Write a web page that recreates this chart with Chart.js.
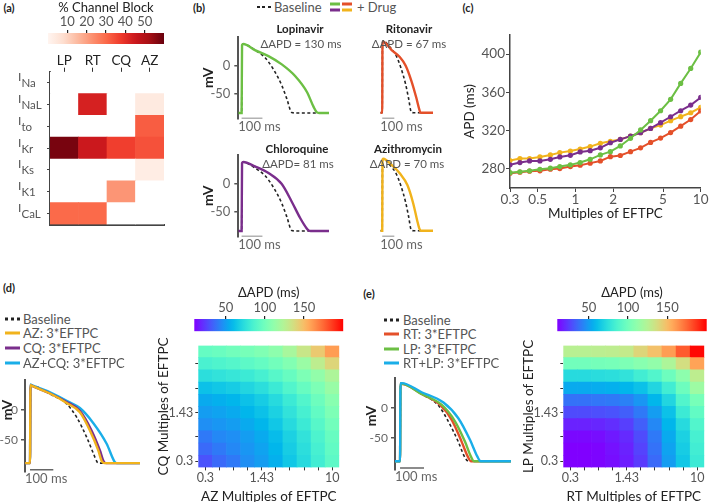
<!DOCTYPE html>
<html>
<head>
<meta charset="utf-8">
<script src="https://cdn.jsdelivr.net/npm/chart.js@4.4.1/dist/chart.umd.min.js"></script>
<style>
body { margin: 0; width: 709px; height: 502px; position: relative; overflow: hidden; background: #fff; font-family: Lato, sans-serif; color: #555; }
canvas { position: absolute; }
.t { position: absolute; white-space: nowrap; transform: translate(-50%, -50%); font-size: 11.5px; }
.l { position: absolute; white-space: nowrap; transform: translateY(-50%); font-size: 13px; }
.pl { font-weight: bold; color: #222; font-size: 11px; }
.dn { font-weight: bold; color: #222; }
.mv { position: absolute; white-space: nowrap; transform: translate(-50%, -50%) rotate(-90deg); font-weight: bold; color: #222; font-size: 14px; }
.ic { position: absolute; height: 3px; transform: translateY(-50%); }
.dash { background: repeating-linear-gradient(to right, #222 0 3px, transparent 3px 5.5px); height: 2px; }
.dots { background: repeating-linear-gradient(to right, #222 0 3px, transparent 3px 6px); height: 3px; }
</style>
</head>
<body>
<canvas id="cbA" width="135" height="46" style="left:40px;top:0px"></canvas>
<canvas id="heatA" width="175" height="185" style="left:0px;top:50px"></canvas>
<canvas id="apLP" width="129" height="110" style="left:200px;top:25px"></canvas>
<canvas id="apRT" width="91" height="110" style="left:342px;top:25px"></canvas>
<canvas id="apCQ" width="129" height="110" style="left:200px;top:143px"></canvas>
<canvas id="apAZ" width="91" height="110" style="left:342px;top:143px"></canvas>
<canvas id="apdC" width="254" height="200" style="left:455px;top:25px"></canvas>
<canvas id="apD" width="153" height="125" style="left:-3px;top:370px"></canvas>
<canvas id="cbD" width="170" height="52" style="left:180px;top:282px"></canvas>
<canvas id="heatD" width="200" height="170" style="left:150px;top:336px"></canvas>
<canvas id="apE" width="158" height="127" style="left:362px;top:368px"></canvas>
<canvas id="cbE" width="164" height="52" style="left:545px;top:282px"></canvas>
<canvas id="heatE" width="194" height="170" style="left:515px;top:336px"></canvas>

<!-- panel labels -->
<div class="t pl" style="left:9px;top:7px">(a)</div>
<div class="t pl" style="left:199px;top:7px">(b)</div>
<div class="t pl" style="left:468px;top:7px">(c)</div>
<div class="t pl" style="left:9px;top:287px">(d)</div>
<div class="t pl" style="left:369px;top:293px">(e)</div>

<!-- (b) legend -->
<div class="ic dash" style="left:257px;top:7px;width:15px"></div>
<div class="l" style="left:274px;top:7px">Baseline</div>
<div class="ic" style="left:330px;top:4px;width:10px;background:#6cbf44"></div>
<div class="ic" style="left:342px;top:4px;width:10px;background:#e4502a"></div>
<div class="ic" style="left:330px;top:10px;width:10px;background:#7a2e8c"></div>
<div class="ic" style="left:342px;top:10px;width:10px;background:#f1b31c"></div>
<div class="l" style="left:357px;top:7px">+ Drug</div>

<!-- (b) titles -->
<div class="t dn" style="left:300px;top:28px">Lopinavir</div>
<div class="t" style="left:301px;top:43px">ΔAPD = 130 ms</div>
<div class="t dn" style="left:409px;top:28px">Ritonavir</div>
<div class="t" style="left:409px;top:43px">ΔAPD = 67 ms</div>
<div class="t dn" style="left:297px;top:148px">Chloroquine</div>
<div class="t" style="left:298px;top:163px">ΔAPD= 81 ms</div>
<div class="t dn" style="left:408px;top:148px">Azithromycin</div>
<div class="t" style="left:407px;top:163px">ΔAPD = 70 ms</div>

<!-- (d) legend -->
<div class="ic dots" style="left:5px;top:319px;width:15px"></div>
<div class="l" style="left:23px;top:319px">Baseline</div>
<div class="ic" style="left:5px;top:333px;width:15px;background:#f1b31c"></div>
<div class="l" style="left:23px;top:333px">AZ: 3*EFTPC</div>
<div class="ic" style="left:5px;top:348px;width:15px;background:#7a2e8c"></div>
<div class="l" style="left:23px;top:348px">CQ: 3*EFTPC</div>
<div class="ic" style="left:5px;top:363px;width:15px;background:#1aaee8"></div>
<div class="l" style="left:23px;top:363px">AZ+CQ: 3*EFTPC</div>
<div class="mv" style="left:6px;top:410px">mV</div>

<!-- (e) legend -->
<div class="ic dots" style="left:384px;top:320px;width:15px"></div>
<div class="l" style="left:403px;top:320px">Baseline</div>
<div class="ic" style="left:384px;top:334px;width:15px;background:#e4502a"></div>
<div class="l" style="left:403px;top:334px">RT: 3*EFTPC</div>
<div class="ic" style="left:384px;top:349px;width:15px;background:#6cbf44"></div>
<div class="l" style="left:403px;top:349px">LP: 3*EFTPC</div>
<div class="ic" style="left:384px;top:363px;width:15px;background:#1aaee8"></div>
<div class="l" style="left:403px;top:363px">RT+LP: 3*EFTPC</div>
<div class="mv" style="left:370px;top:416px">mV</div>

<script>
// ---- (a) channel block (%) ----
const drugs = ['LP', 'RT', 'CQ', 'AZ'];
const channels = ['Na', 'NaL', 'to', 'Kr', 'Ks', 'K1', 'CaL'];
const blockNa  = [0, 0, 0, 0];
const blockNaL = [0, 43, 0, 4];
const blockTo  = [0, 0, 0, 32];
const blockKr  = [58, 45, 37, 34];
const blockKs  = [0, 0, 0, 3];
const blockK1  = [0, 0, 22, 0];
const blockCaL = [30, 30, 0, 0];
const blockTicks = [10, 20, 30, 40, 50];

// ---- (b) action potentials, time (ms) / voltage (mV) ----
const tBase = [-16, 0, 2, 8, 64, 113, 153, 193, 217, 241, 260, 420];
const vBase = [-85, -85, 38, 40, 29, 15, -6, -35, -59, -84, -85, -85];
const tLP = [-16, 0, 2, 8, 64, 129, 193, 257, 314, 346, 362, 372, 420];
const vLP = [-85, -85, 38, 40, 29, 18, 3, -18, -47, -74, -84, -85, -85];
const tRT = [-16, 0, 2, 8, 80, 145, 193, 241, 282, 305, 314, 325, 420];
const vRT = [-85, -85, 38, 38, 23.5, 11.7, -3, -29.5, -59, -78, -84, -85, -85];
const tCQ = [-16, 0, 2, 8, 64, 129, 193, 241, 282, 312, 322, 332, 420];
const vCQ = [-85, -85, 38, 40, 32, 20, 0, -32, -62, -80, -84, -85, -85];
const tAZ = [-16, 0, 2, 8, 80, 145, 209, 257, 290, 305, 314, 324, 420];
const vAZ = [-85, -85, 38, 40, 29, 14.7, -6, -38, -68, -80, -84, -85, -85];

// ---- (c) APD vs multiples of EFTPC ----
const eftpc = [0.3, 0.36, 0.43, 0.52, 0.63, 0.75, 0.91, 1.09, 1.31, 1.58, 1.9, 2.28, 2.75, 3.31, 3.98, 4.78, 5.75, 6.92, 8.32, 10];
const apdLP = [276, 277, 278, 279.6, 280.7, 282.4, 284.2, 286.6, 290, 294.6, 298, 304, 312, 320.7, 330.4, 340.8, 352.7, 369.4, 385, 402];
const apdRT = [275.5, 276.5, 277.6, 278, 279.6, 280.3, 282.4, 283.8, 286, 288.3, 292.8, 294, 298, 302, 307.7, 312.2, 318, 324.7, 331.6, 340.6];
const apdCQ = [284.2, 286.6, 288.3, 288.3, 290, 292.5, 294.2, 297.7, 299, 302, 307.3, 310.8, 314.3, 317.8, 322.3, 328.3, 334.5, 340.8, 346.7, 354.7];
const apdAZ = [288.7, 290.8, 290.8, 292.5, 294.6, 297, 298.7, 300.8, 303.3, 306.7, 308.8, 310.8, 314.3, 317.8, 322.3, 325.8, 330.4, 334.6, 338.7, 344.3];
const eftpcTicks = [0.3, 0.5, 1, 2, 5, 10];
const apdTicks = [280, 320, 360, 400];

// ---- (d) AZ + CQ ----
const dtBase = [-21, 0, 2, 7, 86, 157, 200, 243, 272, 288, 298, 472];
const dvBase = [-88, -88, 40, 40, 26, 10, -12, -45, -72, -86, -88, -88];
const dtAZ = [-21, 0, 2, 7, 86, 157, 214, 257, 293, 308, 318, 472];
const dvAZ = [-88, -88, 41, 40, 27, 11.5, -4, -34, -67, -85, -88, -88];
const dtCQ = [-21, 0, 2, 7, 86, 157, 214, 264, 300, 316, 326, 472];
const dvCQ = [-88, -88, 41, 40, 27, 13, -1.5, -34, -67, -85, -88, -88];
const dtAZCQ = [-21, 0, 2, 7, 86, 157, 214, 272, 329, 362, 372, 472];
const dvAZCQ = [-88, -88, 42, 41, 29, 15, 3, -22, -56, -85, -88, -88];

// ---- (e) RT + LP ----
const etBase = [-21, 0, 2, 7, 90, 160, 201, 243, 268, 285, 462];
const evBase = [-88, -88, 40, 40, 23, 4, -22, -56, -80, -88, -88];
const etRT = [-21, 0, 2, 7, 90, 167, 216, 257, 282, 296, 462];
const evRT = [-88, -88, 40, 40, 23, 5, -20, -56, -80, -88, -88];
const etLP = [-21, 0, 2, 7, 90, 174, 229, 271, 295, 308, 462];
const evLP = [-88, -88, 40, 40, 23, 5, -22, -56, -80, -88, -88];
const etRTLP = [-21, 0, 2, 7, 90, 181, 243, 292, 322, 336, 462];
const evRTLP = [-88, -88, 41, 41, 26, 9, -17, -53, -80, -88, -88];

// heatmap axes (multiples of EFTPC) and dAPD (ms); rows listed top (10x) to bottom (0.3x)
const multiples = ['0.3', '0.443', '0.654', '0.965', '1.43', '2.10', '3.10', '4.58', '6.77', '10'];
const shownMultiples = [0, 4, 9];
const dApdTicks = [50, 100, 150];
const dApdAzCq = [
    [95, 97, 100, 102, 105, 110, 120, 132, 145, 160],
    [85, 87, 89, 92, 95, 100, 106, 115, 128, 140],
    [74, 76, 78, 80, 84, 90, 96, 104, 112, 122],
    [62, 64, 66, 70, 74, 80, 88, 96, 104, 114],
    [54, 56, 58, 62, 66, 72, 80, 88, 98, 108],
    [50, 52, 54, 58, 62, 68, 76, 84, 94, 104],
    [46, 48, 50, 54, 58, 64, 72, 80, 90, 100],
    [40, 44, 46, 50, 54, 60, 68, 76, 86, 96],
    [36, 40, 44, 48, 52, 58, 66, 74, 84, 94],
    [30, 36, 40, 46, 50, 56, 64, 72, 82, 92]
];
const dApdRtLp = [
    [126, 126, 127, 128, 130, 140, 148, 160, 178, 198],
    [100, 100, 101, 102, 104, 108, 112, 122, 136, 158],
    [72, 72, 73, 74, 76, 82, 88, 98, 110, 128],
    [54, 54, 55, 56, 58, 62, 70, 82, 98, 116],
    [38, 38, 39, 40, 42, 48, 58, 70, 88, 102],
    [28, 28, 29, 30, 33, 40, 50, 62, 80, 94],
    [18, 18, 19, 21, 25, 33, 44, 58, 72, 88],
    [12, 12, 13, 16, 20, 28, 40, 54, 68, 84],
    [10, 10, 11, 14, 18, 26, 38, 52, 66, 82],
    [10, 10, 11, 13, 17, 24, 36, 50, 64, 80]
];

const green = '#6cbf44', red = '#e4502a', purple = '#7a2e8c', yellow = '#f1b31c', blue = '#1aaee8';

Chart.defaults.font.family = 'Lato';
Chart.defaults.font.size = 12.5;
Chart.defaults.color = '#555';
Chart.defaults.responsive = false;
Chart.defaults.animation = false;
Chart.defaults.events = [];
Chart.defaults.plugins.legend.display = false;
Chart.defaults.plugins.tooltip.enabled = false;

const fixH = h => s => { s.height = h; };
const fixW = w => s => { s.width = w; };
const setTicks = vals => s => { s.ticks = vals.map(v => ({ value: v })); };
const zip = (t, v) => t.map((x, i) => ({ x, y: v[i] }));

// colour maps
const redStops = ['#fff5f0', '#fee0d2', '#fcbba1', '#fc9272', '#fb6a4a', '#ef3b2c', '#cb181d', '#a50f15', '#67000d'];
function hex(h) { return [1, 3, 5].map(i => parseInt(h.substr(i, 2), 16)); }
function reds(t) {
    t = Math.max(0, Math.min(1, t));
    const pos = t * (redStops.length - 1);
    const i = Math.min(Math.floor(pos), redStops.length - 2);
    const f = pos - i;
    const a = hex(redStops[i]), b = hex(redStops[i + 1]);
    return `rgb(${a.map((c, k) => Math.round(c + (b[k] - c) * f)).join(',')})`;
}
function rainbow(t) {
    t = Math.max(0, Math.min(1, t));
    const r = Math.min(1, Math.abs(2 * t - 0.5));
    const g = Math.sin(Math.PI * t);
    const b = Math.cos(Math.PI * t / 2);
    return `rgb(${Math.round(r * 255)},${Math.round(g * 255)},${Math.round(b * 255)})`;
}
const apdColor = v => rainbow((v - 10) / 190);

function gradient(chart, cmap) {
    const a = chart.chartArea;
    if (!a) return 'transparent';
    const g = chart.ctx.createLinearGradient(a.left, 0, a.right, 0);
    for (let i = 0; i <= 30; i++) g.addColorStop(i / 30, cmap(i / 30));
    return g;
}

function colorbar(id, min, max, ticks, title, cmap, pad, axisH, titlePad) {
    new Chart(document.getElementById(id), {
        type: 'bar',
        data: {
            labels: [''],
            datasets: [{ data: [[min, max]], barPercentage: 1, categoryPercentage: 1, backgroundColor: c => gradient(c.chart, cmap) }]
        },
        options: {
            indexAxis: 'y',
            layout: { padding: pad },
            scales: {
                x: {
                    position: 'top', min, max,
                    afterBuildTicks: setTicks(ticks),
                    afterFit: fixH(axisH),
                    grid: { drawOnChartArea: false, tickLength: 3, color: '#222', lineWidth: 1.2 },
                    border: { display: false },
                    ticks: { padding: 0, font: { size: 13 } },
                    title: { display: true, text: title, color: '#222', font: { size: 13 }, padding: { top: titlePad, bottom: 0 } }
                },
                y: { display: false }
            }
        }
    });
}

// ---------- (a) ----------
colorbar('cbA', 0, 60, blockTicks, '% Channel Block', reds, { left: 8, right: 11, top: 0, bottom: 2 }, 33, 0);

const blockRows = [blockNa, blockNaL, blockTo, blockKr, blockKs, blockK1, blockCaL];
const rowLabels = {
    id: 'rowLabels',
    afterDraw(chart) {
        const y = chart.scales.y, ctx = chart.ctx;
        ctx.save();
        ctx.fillStyle = '#555';
        ctx.textAlign = 'left';
        ctx.textBaseline = 'alphabetic';
        channels.forEach((name, r) => {
            const py = y.getPixelForValue(channels.length - r - 0.5);
            ctx.font = '12px Lato';
            ctx.fillText('I', 18, py - 1.5);
            ctx.font = '11.5px Lato';
            ctx.fillText(name, 21.5, py + 4.5);
        });
        ctx.restore();
    }
};
new Chart(document.getElementById('heatA'), {
    type: 'bar',
    data: {
        labels: drugs,
        datasets: blockRows.slice().reverse().map(row => ({
            data: row.map(() => 1),
            backgroundColor: row.map(v => v > 0 ? reds(v / 60) : '#ffffff'),
            barPercentage: 1, categoryPercentage: 1
        }))
    },
    options: {
        layout: { padding: { left: 0, right: 11, top: 0, bottom: 6.7 } },
        scales: {
            x: {
                position: 'top', stacked: true,
                afterFit: fixH(21.7),
                grid: { offset: false, drawOnChartArea: false, tickLength: 4, color: '#333' },
                border: { display: false },
                ticks: { color: '#222', font: { size: 13.5 }, padding: -1 }
            },
            x2: {
                type: 'category', labels: drugs, position: 'bottom',
                afterFit: fixH(0),
                grid: { display: false, drawTicks: false },
                ticks: { display: false },
                border: { display: true, color: '#444', width: 2 }
            },
            y: {
                stacked: true, min: 0, max: channels.length,
                afterBuildTicks: setTicks(channels.map((c, i) => i + 0.5)),
                afterFit: fixW(50),
                ticks: { callback: () => '' },
                grid: { drawOnChartArea: false, tickLength: 3, color: '#444' },
                border: { color: '#444', width: 2 }
            }
        }
    },
    plugins: [rowLabels]
});

// ---------- action potential helper ----------
// curves are listed top-most first; the baseline is drawn underneath
function apChart(id, curves, o) {
    const datasets = curves.map((c, i) => ({
        data: zip(c.t, c.v),
        borderColor: c.color,
        borderWidth: c.dash ? 1.6 : 2.4,
        borderDash: c.dash ? [3, 2.5] : [],
        pointRadius: 0,
        cubicInterpolationMode: 'monotone',
        order: c.dash ? 10 : i + 1
    }));
    // 100 ms scale bar
    datasets.push({ data: [{ x: 0, y: o.bar }, { x: 100, y: o.bar }], borderColor: '#666', borderWidth: 1.5, pointRadius: 0, order: 0 });
    new Chart(document.getElementById(id), {
        type: 'line',
        data: { datasets },
        options: {
            layout: { padding: o.pad },
            scales: {
                x: {
                    type: 'linear', min: o.xmin, max: o.xmax,
                    afterFit: fixH(o.xH),
                    ticks: { display: false },
                    grid: { display: false },
                    border: { display: false },
                    title: { display: true, text: '100 ms', align: 'start', color: '#666', font: { size: 13 }, padding: 0 }
                },
                y: {
                    display: o.showY, min: o.ymin, max: o.ymax,
                    afterBuildTicks: setTicks([-50, 0]),
                    afterFit: fixW(o.yW),
                    ticks: { color: '#666', font: { size: o.tickSize }, padding: o.tickPad },
                    grid: { drawOnChartArea: false, tickLength: 4, color: '#555', lineWidth: 1.5 },
                    border: { color: '#555', width: 2 },
                    title: { display: o.yTitle, text: 'mV', color: '#222', font: { size: 14, weight: 'bold' }, padding: 0 }
                }
            }
        }
    });
}

const baseCurve = { t: tBase, v: vBase, color: '#222', dash: true };
const bOpts = showY => ({ xmin: -16, xmax: 420, ymin: -95, ymax: 53, bar: -95, showY, yTitle: true, yW: 38.3, xH: 16.5, tickSize: 13, tickPad: 4, pad: { top: 8.3, left: 0, right: 0, bottom: 0 } });
apChart('apLP', [{ t: tLP, v: vLP, color: green }, baseCurve], bOpts(true));
apChart('apRT', [{ t: tRT, v: vRT, color: red }, baseCurve], bOpts(false));
apChart('apCQ', [{ t: tCQ, v: vCQ, color: purple }, baseCurve], bOpts(true));
apChart('apAZ', [{ t: tAZ, v: vAZ, color: yellow }, baseCurve], bOpts(false));

// ---------- (c) ----------
new Chart(document.getElementById('apdC'), {
    type: 'line',
    data: {
        labels: eftpc,
        datasets: [
            ['LP', apdLP, green], ['RT', apdRT, red], ['CQ', apdCQ, purple], ['AZ', apdAZ, yellow]
        ].map(([label, vals, color]) => ({
            label,
            data: zip(eftpc, vals),
            borderColor: color, backgroundColor: color,
            borderWidth: 2, pointRadius: 2.6, pointBorderWidth: 0
        }))
    },
    options: {
        layout: { padding: { top: 10, right: 8.3, bottom: 3, left: 0 } },
        scales: {
            x: {
                type: 'logarithmic', min: 0.3, max: 10,
                afterBuildTicks: setTicks(eftpcTicks),
                afterFit: fixH(34),
                ticks: { callback: v => String(v), font: { size: 13.5 }, padding: 0 },
                grid: { drawOnChartArea: false, tickLength: 4, color: '#444' },
                border: { color: '#444', width: 1.5 },
                title: { display: true, text: 'Multiples of EFTPC', color: '#222', font: { size: 13.5 }, padding: 0 }
            },
            y: {
                min: 260, max: 420,
                afterBuildTicks: setTicks(apdTicks),
                afterFit: fixW(55),
                ticks: { font: { size: 13.5 }, padding: 1 },
                grid: { drawOnChartArea: false, tickLength: 4, color: '#444' },
                border: { color: '#444', width: 1.5 },
                title: { display: true, text: 'APD (ms)', color: '#222', font: { size: 13.5 }, padding: { top: 7, bottom: 0 } }
            }
        }
    }
});

// ---------- (d) / (e) ----------
apChart('apD', [
    { t: dtAZ, v: dvAZ, color: yellow },
    { t: dtCQ, v: dvCQ, color: purple },
    { t: dtAZCQ, v: dvAZCQ, color: blue },
    { t: dtBase, v: dvBase, color: '#222', dash: true }
], { xmin: -21.5, xmax: 515, ymin: -102, ymax: 49, bar: -99, showY: true, yTitle: false, yW: 28, xH: 15.4, tickSize: 12, tickPad: 3, pad: { top: 10, left: 0, right: 0, bottom: 8 } });

apChart('apE', [
    { t: etRTLP, v: evRTLP, color: blue },
    { t: etLP, v: evLP, color: green },
    { t: etRT, v: evRT, color: red },
    { t: etBase, v: evBase, color: '#222', dash: true }
], { xmin: -21, xmax: 500, ymin: -102, ymax: 49, bar: -99, showY: true, yTitle: false, yW: 33, xH: 15.4, tickSize: 12, tickPad: 3, pad: { top: 10.3, left: 0, right: 0, bottom: 9.9 } });

colorbar('cbD', 10, 200, dApdTicks, 'ΔAPD (ms)', rainbow, { left: 14.3, right: 6.7, top: 0, bottom: 2.7 }, 37, 3.5);
colorbar('cbE', 10, 200, dApdTicks, 'ΔAPD (ms)', rainbow, { left: 12.3, right: 2.3, top: 0, bottom: 2.7 }, 37, 3.5);

function gridHeat(id, values, xTitle, yTitle, pad) {
    const n = values.length;
    const label = i => shownMultiples.includes(i) ? multiples[i] : '';
    new Chart(document.getElementById(id), {
        type: 'bar',
        data: {
            labels: multiples,
            datasets: values.slice().reverse().map(row => ({
                data: row.map(() => 1),
                backgroundColor: row.map(apdColor),
                barPercentage: 1, categoryPercentage: 1
            }))
        },
        options: {
            layout: { padding: pad },
            scales: {
                x: {
                    stacked: true,
                    afterFit: fixH(37),
                    grid: { offset: false, drawOnChartArea: false, tickLength: 3, color: '#333' },
                    border: { display: false },
                    ticks: { autoSkip: false, maxRotation: 0, padding: 0.5, font: { size: 12.5 }, callback: (v, i) => label(i) },
                    title: { display: true, text: xTitle, color: '#222', font: { size: 13.5 }, padding: 0 }
                },
                y: {
                    stacked: true, min: 0, max: n,
                    afterBuildTicks: setTicks(multiples.map((m, i) => i + 0.5)),
                    afterFit: fixW(48.3),
                    grid: { drawOnChartArea: false, tickLength: 3, color: '#333' },
                    border: { display: false },
                    ticks: { padding: 2, font: { size: 12.5 }, callback: v => label(Math.floor(v)) },
                    title: { display: true, text: yTitle, color: '#222', font: { size: 13.5 }, padding: { top: 5.2, bottom: 0 } }
                }
            }
        }
    });
}
gridHeat('heatD', dApdAzCq, 'AZ Multiples of EFTPC', 'CQ Multiples of EFTPC', { top: 7.3, right: 10.7, left: 0, bottom: 1.6 });
gridHeat('heatE', dApdRtLp, 'RT Multiples of EFTPC', 'LP Multiples of EFTPC', { top: 6.7, right: 4.7, left: 0, bottom: 1.6 });
</script>
</body>
</html>
